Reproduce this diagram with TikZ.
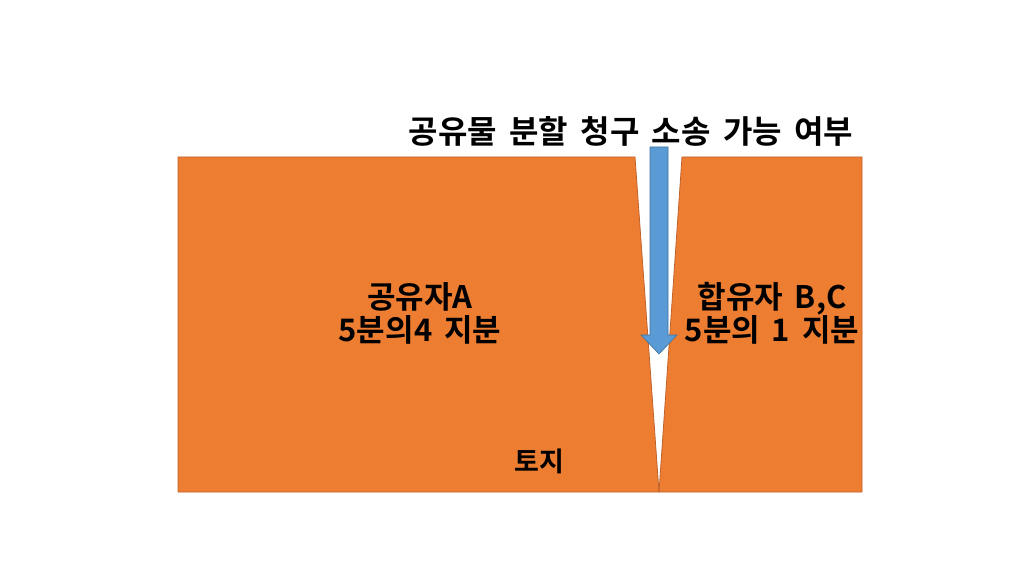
\documentclass[tikz,border=0pt]{standalone}
\usepackage{fontspec}
\setmainfont[WordSpace=1.7]{Noto Sans CJK KR Bold}
\definecolor{landorange}{HTML}{ED7D31}
\definecolor{landedge}{HTML}{C0622A}
\definecolor{arrowblue}{HTML}{5B9BD5}
\definecolor{arrowedge}{HTML}{41719C}
\begin{document}
\begin{tikzpicture}[x=1pt,y=-1pt,
  land/.style={fill=landorange,draw=landedge,line width=0.8pt},
  lbl/.style={inner sep=0pt,align=center,text=black}]
\useasboundingbox (0,0) rectangle (1025,577);
\fill[white] (0,0) rectangle (1025,577);
% left parcel
\path[land] (178,157) -- (635,157) -- (659,492) -- (178,492) -- cycle;
% right parcel
\path[land] (682,157) -- (862,157) -- (862,492) -- (659,492) -- cycle;
% arrow
\path[fill=arrowblue,draw=arrowedge,line width=0.6pt]
  (650,147) -- (668,147) -- (668,335) -- (677,335) -- (659,354)
  -- (641,335) -- (650,335) -- cycle;
\node[lbl,font=\fontsize{32}{36}\selectfont] (title) at (631,131) {공유물 분할 청구 소송 가능 여부};
\node[lbl,font=\fontsize{31}{33}\selectfont] (ownerA) at (420,313) {공유자A\\5분의4 지분};
\node[lbl,font=\fontsize{31}{33}\selectfont] (ownerBC) at (772,313) {합유자 B,C\\5분의 1 지분};
\node[lbl,font=\fontsize{27}{30}\selectfont] (land) at (539,461) {토지};
\end{tikzpicture}
\end{document}
